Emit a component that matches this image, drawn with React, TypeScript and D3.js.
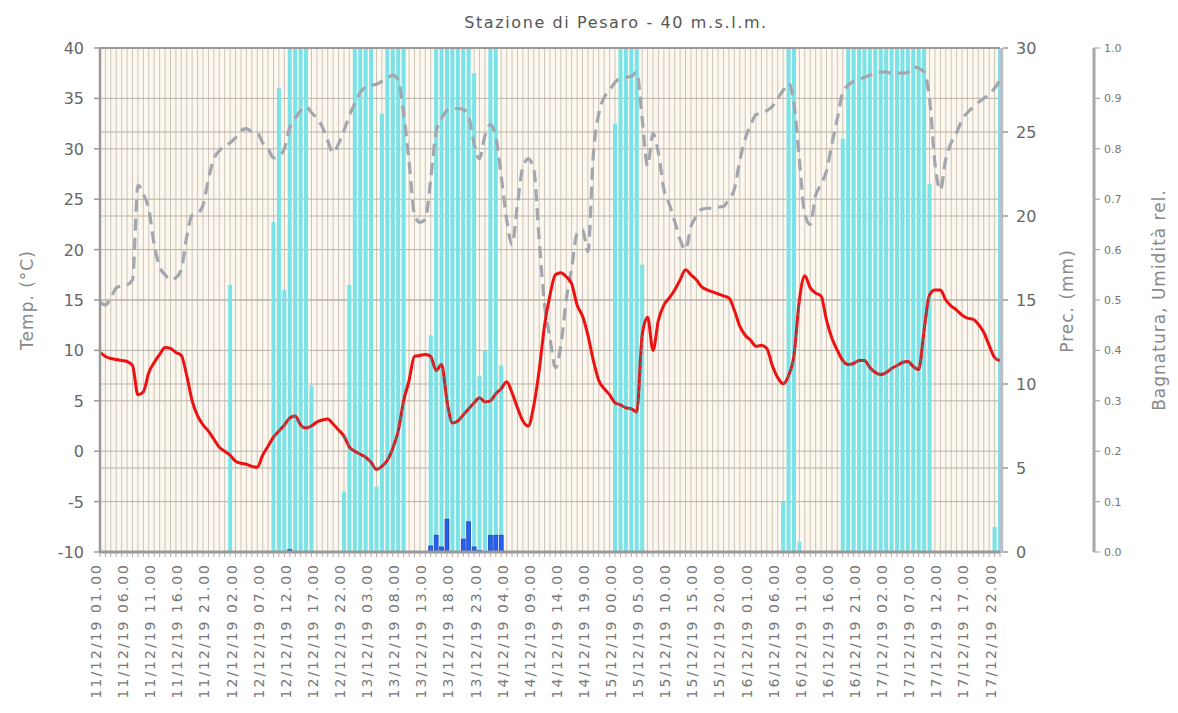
import React from 'react';
import * as d3 from 'd3';

// ---------- data ----------
const dayLabels = ['11', '12', '13', '14', '15', '16', '17'];
// hourly categories 11/12/19 01.00 ... 17/12/19 23.00
const hours: string[] = [];
dayLabels.forEach((d, di) => {
  for (let h = 0; h < 24; h++) {
    if (di === 0 && h === 0) continue;
    hours.push(`${d}/12/19 ${String(h).padStart(2, '0')}.00`);
  }
});

const tickLabels = [
  '11/12/19 01.00', '11/12/19 06.00', '11/12/19 11.00', '11/12/19 16.00', '11/12/19 21.00',
  '12/12/19 02.00', '12/12/19 07.00', '12/12/19 12.00', '12/12/19 17.00', '12/12/19 22.00',
  '13/12/19 03.00', '13/12/19 08.00', '13/12/19 13.00', '13/12/19 18.00', '13/12/19 23.00',
  '14/12/19 04.00', '14/12/19 09.00', '14/12/19 14.00', '14/12/19 19.00',
  '15/12/19 00.00', '15/12/19 05.00', '15/12/19 10.00', '15/12/19 15.00', '15/12/19 20.00',
  '16/12/19 01.00', '16/12/19 06.00', '16/12/19 11.00', '16/12/19 16.00', '16/12/19 21.00',
  '17/12/19 02.00', '17/12/19 07.00', '17/12/19 12.00', '17/12/19 17.00', '17/12/19 22.00',
];

// temperature (°C), hourly
const temperature = [
  9.8, 9.4, 9.2, 9.1, 9.0, 8.9, 8.5, 5.6, 5.9, 7.8, 8.8, 9.6, 10.3, 10.2, 9.8, 9.5, 7.5, 5.0, 3.5, 2.6,
  2.0, 1.2, 0.4, 0.0, -0.4, -1.0, -1.2, -1.3, -1.5, -1.6, -0.4, 0.5, 1.4, 2.0, 2.6, 3.3, 3.5, 2.6, 2.3, 2.5,
  2.9, 3.1, 3.2, 2.7, 2.1, 1.5, 0.4, 0.0, -0.3, -0.6, -1.1, -1.8, -1.5, -0.9, 0.3, 2.0, 5.0, 7.0, 9.4, 9.5,
  9.6, 9.4, 8.0, 8.6, 5.0, 2.8, 3.0, 3.6, 4.2, 4.8, 5.3, 4.9, 5.0, 5.7, 6.2, 6.9, 5.8, 4.3, 3.0, 2.5,
  4.5, 8.0, 12.5, 15.5, 17.5, 17.7, 17.3, 16.6, 14.5, 13.4, 11.5, 9.0, 7.0, 6.2, 5.6, 4.8, 4.6, 4.3, 4.2, 3.9,
  11.5, 13.3, 10.0, 13.0, 14.5, 15.2, 16.0, 17.0, 18.0, 17.5, 17.0, 16.3, 16.0, 15.8, 15.6, 15.4, 15.2, 14.0, 12.4, 11.5,
  11.0, 10.4, 10.5, 10.2, 8.5, 7.3, 6.7, 7.5, 9.5, 15.0, 17.4, 16.2, 15.7, 15.4, 13.0, 11.2, 10.0, 9.0, 8.6, 8.7,
  9.0, 9.0, 8.3, 7.8, 7.6, 7.8, 8.2, 8.5, 8.8, 8.9, 8.4, 8.1, 12.0, 15.5, 16.0, 16.0, 15.0, 14.4, 14.0, 13.5,
  13.2, 13.1, 12.6, 11.8, 10.5, 9.3, 9.0,
];

// relative humidity (0-1), hourly
const humidity = [
  0.496, 0.49, 0.504, 0.524, 0.528, 0.53, 0.54, 0.728, 0.71, 0.68, 0.61, 0.566, 0.55, 0.54, 0.544, 0.56, 0.626, 0.668, 0.672, 0.688,
  0.74, 0.78, 0.796, 0.806, 0.812, 0.822, 0.836, 0.84, 0.834, 0.832, 0.812, 0.8, 0.782, 0.786, 0.8, 0.842, 0.86, 0.876, 0.884, 0.872,
  0.86, 0.844, 0.816, 0.792, 0.81, 0.836, 0.866, 0.89, 0.912, 0.922, 0.926, 0.928, 0.934, 0.94, 0.946, 0.936, 0.87, 0.776, 0.67, 0.654,
  0.66, 0.74, 0.834, 0.86, 0.876, 0.88, 0.88, 0.878, 0.864, 0.81, 0.78, 0.826, 0.848, 0.824, 0.746, 0.66, 0.61, 0.69, 0.764, 0.78,
  0.76, 0.62, 0.49, 0.424, 0.366, 0.41, 0.5, 0.564, 0.632, 0.64, 0.596, 0.79, 0.87, 0.902, 0.916, 0.932, 0.94, 0.942, 0.944, 0.952,
  0.86, 0.766, 0.83, 0.792, 0.72, 0.69, 0.656, 0.62, 0.6, 0.646, 0.666, 0.68, 0.682, 0.682, 0.684, 0.686, 0.7, 0.72, 0.776, 0.82,
  0.846, 0.868, 0.87, 0.876, 0.884, 0.9, 0.916, 0.93, 0.89, 0.778, 0.67, 0.65, 0.708, 0.73, 0.756, 0.81, 0.86, 0.912, 0.926, 0.934,
  0.938, 0.942, 0.946, 0.95, 0.952, 0.952, 0.95, 0.95, 0.95, 0.952, 0.962, 0.96, 0.952, 0.9, 0.772, 0.718, 0.78, 0.812, 0.832, 0.858,
  0.872, 0.882, 0.892, 0.9, 0.908, 0.92, 0.936,
];

// leaf wetness (0-1)
const wetness: [string, number][] = [
  ['12/12/19 01.00', 0.53],
  ['12/12/19 09.00', 0.655], ['12/12/19 10.00', 0.92], ['12/12/19 11.00', 0.52], ['12/12/19 12.00', 1],
  ['12/12/19 13.00', 1], ['12/12/19 14.00', 1], ['12/12/19 15.00', 1], ['12/12/19 16.00', 0.33],
  ['12/12/19 22.00', 0.12], ['12/12/19 23.00', 0.53], ['13/12/19 00.00', 1], ['13/12/19 01.00', 1],
  ['13/12/19 02.00', 1], ['13/12/19 03.00', 1], ['13/12/19 04.00', 0.13], ['13/12/19 05.00', 0.87],
  ['13/12/19 06.00', 1], ['13/12/19 07.00', 1], ['13/12/19 08.00', 1], ['13/12/19 09.00', 1],
  ['13/12/19 14.00', 0.43], ['13/12/19 15.00', 1], ['13/12/19 16.00', 1], ['13/12/19 17.00', 1],
  ['13/12/19 18.00', 1], ['13/12/19 19.00', 1], ['13/12/19 20.00', 1], ['13/12/19 21.00', 1],
  ['13/12/19 22.00', 0.95], ['13/12/19 23.00', 0.35], ['14/12/19 00.00', 0.4], ['14/12/19 01.00', 1],
  ['14/12/19 02.00', 1], ['14/12/19 03.00', 0.37],
  ['15/12/19 00.00', 0.85], ['15/12/19 01.00', 1], ['15/12/19 02.00', 1], ['15/12/19 03.00', 1],
  ['15/12/19 04.00', 1], ['15/12/19 05.00', 0.57],
  ['16/12/19 07.00', 0.1], ['16/12/19 08.00', 1], ['16/12/19 09.00', 1], ['16/12/19 10.00', 0.02],
  ['16/12/19 18.00', 0.82], ['16/12/19 19.00', 1], ['16/12/19 20.00', 1], ['16/12/19 21.00', 1],
  ['16/12/19 22.00', 1], ['16/12/19 23.00', 1], ['17/12/19 00.00', 1], ['17/12/19 01.00', 1],
  ['17/12/19 02.00', 1], ['17/12/19 03.00', 1], ['17/12/19 04.00', 1], ['17/12/19 05.00', 1],
  ['17/12/19 06.00', 1], ['17/12/19 07.00', 1], ['17/12/19 08.00', 1], ['17/12/19 09.00', 1],
  ['17/12/19 10.00', 0.73],
  ['17/12/19 22.00', 0.05], ['17/12/19 23.00', 1],
];

// precipitation (mm)
const precipitation: [string, number][] = [
  ['12/12/19 12.00', 0.15],
  ['13/12/19 14.00', 0.36], ['13/12/19 15.00', 1.0], ['13/12/19 16.00', 0.3], ['13/12/19 17.00', 1.96],
  ['13/12/19 20.00', 0.77], ['13/12/19 21.00', 1.8], ['13/12/19 22.00', 0.3], ['13/12/19 23.00', 0.1],
  ['14/12/19 01.00', 1.0], ['14/12/19 02.00', 1.0], ['14/12/19 03.00', 1.0],
];

const tempTicks = [-10, -5, 0, 5, 10, 15, 20, 25, 30, 35, 40];
const precTicks = [0, 5, 10, 15, 20, 25, 30];
const humTicks = [0, 0.1, 0.2, 0.3, 0.4, 0.5, 0.6, 0.7, 0.8, 0.9, 1.0];

// ---------- layout ----------
const W = 1178;
const H = 713;
const PL = 100;
const PR = 1000;
const PT = 48;
const PB = 552;
const FONT = 'DejaVu Sans, sans-serif';

export default function App() {
  const x = d3.scalePoint<string>().domain(hours).range([PL, PR]);
  const yT = d3.scaleLinear().domain([-10, 40]).range([PB, PT]);
  const yP = d3.scaleLinear().domain([0, 30]).range([PB, PT]);
  const yH = d3.scaleLinear().domain([0, 1]).range([PB, PT]);

  const tempLine = d3
    .line<number>()
    .x((_, i) => x(hours[i]) as number)
    .y((d) => yT(d))
    .curve(d3.curveMonotoneX);
  const humLine = d3
    .line<number>()
    .x((_, i) => x(hours[i]) as number)
    .y((d) => yH(d))
    .curve(d3.curveMonotoneX);

  // dark overlay on temperature where leaves are wet
  const wetSet = new Set(wetness.filter((w) => w[1] > 0).map((w) => w[0]));
  const runs: number[][] = [];
  let cur: number[] = [];
  hours.forEach((h, i) => {
    if (wetSet.has(h)) cur.push(i);
    else if (cur.length) {
      runs.push(cur);
      cur = [];
    }
  });
  if (cur.length) runs.push(cur);
  const overlayLine = d3
    .line<number>()
    .x((i) => x(hours[i]) as number)
    .y((i) => yT(temperature[i]))
    .curve(d3.curveMonotoneX);

  const barW = 4;

  return (
    <svg
      width={W}
      height={H}
      viewBox={`0 0 ${W} ${H}`}
      style={{ position: 'absolute', left: 0, top: 0, background: '#fff' }}
    >
      <defs>
        <clipPath id="plot">
          <rect x={PL} y={PT} width={PR - PL} height={PB - PT} />
        </clipPath>
      </defs>

      <text
        x={616}
        y={28}
        textAnchor="middle"
        fontFamily={FONT}
        fontSize={16}
        letterSpacing={1.6}
        fill="#555"
      >
        Stazione di Pesaro - 40 m.s.l.m.
      </text>

      {/* plot background */}
      <rect x={PL} y={PT} width={PR - PL} height={PB - PT} fill="#fcf8f0" />

      {/* vertical hourly grid */}
      {hours.map((h) => (
        <line
          key={'vg' + h}
          x1={x(h)}
          x2={x(h)}
          y1={PT}
          y2={PB}
          stroke="#cdc4b8"
          strokeWidth={1}
        />
      ))}
      {/* horizontal grid: temperature and precipitation ticks */}
      {tempTicks.map((t) => (
        <line key={'ht' + t} x1={PL} x2={PR} y1={yT(t)} y2={yT(t)} stroke="#b9b1a7" strokeWidth={1} />
      ))}
      {precTicks.map((t) => (
        <line key={'hp' + t} x1={PL} x2={PR} y1={yP(t)} y2={yP(t)} stroke="#b9b1a7" strokeWidth={1} />
      ))}

      <g clipPath="url(#plot)">
        {/* wetness bars */}
        {wetness.map(([h, v]) => (
          <rect
            key={'w' + h}
            x={(x(h) as number) - barW / 2}
            y={yH(v)}
            width={barW}
            height={PB - yH(v)}
            fill="#7ae3e8"
          />
        ))}
        {/* precipitation bars */}
        {precipitation.map(([h, v]) => (
          <rect
            key={'p' + h}
            x={(x(h) as number) - barW / 2}
            y={yP(v)}
            width={barW}
            height={PB - yP(v)}
            fill="#2a5ef0"
            stroke="#1536b0"
            strokeWidth={0.6}
          />
        ))}

        {/* humidity */}
        <path
          d={humLine(humidity) || ''}
          fill="none"
          stroke="#a2a6ad"
          strokeWidth={3.2}
          strokeDasharray="12,7"
        />
        {/* temperature */}
        <path d={tempLine(temperature) || ''} fill="none" stroke="#ee1111" strokeWidth={3} />
        {runs.map((r, k) => (
          <path
            key={'ov' + k}
            d={overlayLine(r.length > 1 ? r : [r[0], r[0]]) || ''}
            fill="none"
            stroke="#6b6670"
            strokeWidth={1.6}
            strokeDasharray="4,3"
          />
        ))}
      </g>

      {/* frame */}
      <line x1={PL} x2={PR} y1={PT} y2={PT} stroke="#999" strokeWidth={2} />
      <line x1={PL} x2={PR} y1={PB} y2={PB} stroke="#999" strokeWidth={3} />
      <line x1={PL} x2={PL} y1={PT - 1} y2={PB + 1} stroke="#999" strokeWidth={2.5} />
      <line x1={PR + 1.5} x2={PR + 1.5} y1={PT} y2={PB + 1} stroke="#b9bec6" strokeWidth={3.5} />

      {/* x hourly ticks */}
      {hours.map((h) => (
        <line
          key={'xt' + h}
          x1={x(h)}
          x2={x(h)}
          y1={PB + 1}
          y2={PB + 5}
          stroke="#b0aaa4"
          strokeWidth={1}
        />
      ))}
      {/* x labels */}
      {tickLabels.map((l) => {
        const px = (x(l) as number) + 1;
        return (
          <text
            key={'xl' + l}
            transform={`translate(${px},563) rotate(-90)`}
            textAnchor="end"
            fontFamily={FONT}
            fontSize={14}
            letterSpacing={2}
            fill="#777"
          >
            {l}
          </text>
        );
      })}

      {/* left axis */}
      {tempTicks.map((t) => (
        <g key={'lt' + t}>
          <line x1={PL - 6} x2={PL} y1={yT(t)} y2={yT(t)} stroke="#999" strokeWidth={1.5} />
          <text
            x={84}
            y={yT(t) + 6}
            textAnchor="end"
            fontFamily={FONT}
            fontSize={16}
            fill="#666"
          >
            {t}
          </text>
        </g>
      ))}
      <text
        transform={`translate(33,300) rotate(-90)`}
        textAnchor="middle"
        fontFamily={FONT}
        fontSize={17}
        letterSpacing={1}
        fill="#888"
      >
        Temp. (°C)
      </text>

      {/* right axis: precipitation */}
      {precTicks.map((t) => (
        <g key={'rt' + t}>
          <line x1={PR + 3} x2={PR + 8} y1={yP(t)} y2={yP(t)} stroke="#999" strokeWidth={1.5} />
          <text x={1016} y={yP(t) + 6} fontFamily={FONT} fontSize={16} fill="#666">
            {t}
          </text>
        </g>
      ))}
      <text
        transform={`translate(1073,301) rotate(-90)`}
        textAnchor="middle"
        fontFamily={FONT}
        fontSize={17}
        letterSpacing={1}
        fill="#888"
      >
        Prec. (mm)
      </text>

      {/* third axis: wetness / humidity */}
      <line x1={1094} x2={1094} y1={PT} y2={PB} stroke="#a8a8a8" strokeWidth={3} />
      {humTicks.map((t) => (
        <g key={'ht3' + t}>
          <line x1={1094} x2={1100} y1={yH(t)} y2={yH(t)} stroke="#a8a8a8" strokeWidth={1.2} />
          <text x={1104} y={yH(t) + 4} fontFamily={FONT} fontSize={11} fill="#777">
            {t.toFixed(1)}
          </text>
        </g>
      ))}
      <text
        transform={`translate(1165,300) rotate(-90)`}
        textAnchor="middle"
        fontFamily={FONT}
        fontSize={17}
        letterSpacing={1}
        fill="#888"
      >
        Bagnatura, Umidità rel.
      </text>
    </svg>
  );
}
